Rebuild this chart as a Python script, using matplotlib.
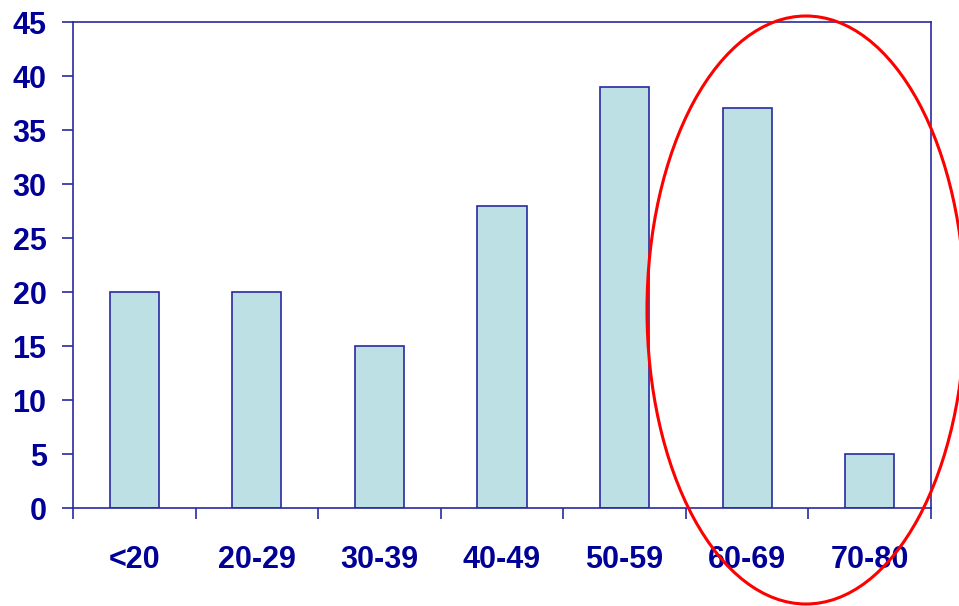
import numpy as np
import matplotlib.pyplot as plt
from matplotlib.patches import Ellipse

categories = ['<20', '20-29', '30-39', '40-49', '50-59', '60-69', '70-80']
values = [20, 20, 15, 28, 39, 37, 5]
yticks = [0, 5, 10, 15, 20, 25, 30, 35, 40, 45]

navy = '#000099'
edge = '#2a2aa0'

plt.rcParams['font.family'] = ['Liberation Sans', 'DejaVu Sans']

fig = plt.figure(figsize=(9.59, 6.06), dpi=100)
ax = fig.add_axes([73 / 959, 1 - 508 / 606, (931 - 73) / 959, (508 - 22) / 606])

x = np.arange(len(categories))
ax.bar(x, values, width=0.4, color='#bce0e3', edgecolor=edge, linewidth=1.2)

ax.set_xlim(-0.5, len(categories) - 0.5)
ax.set_ylim(0, 45)
ax.set_yticks(yticks)
ax.set_yticklabels([str(v) for v in yticks])

# categorias sin marca, marcas en los limites
ax.set_xticks(x)
ax.set_xticklabels(categories)
ax.tick_params(axis='x', length=0, pad=27)
ax.set_xticks(np.arange(len(categories) + 1) - 0.5, minor=True)
ax.tick_params(axis='x', which='minor', length=8, width=1.2, color=edge, direction='out')
ax.tick_params(axis='y', length=8, width=1.2, color=edge, direction='out', pad=11)

for lab in ax.get_xticklabels() + ax.get_yticklabels():
    lab.set_fontsize(22)
    lab.set_fontweight('bold')
    lab.set_color(navy)

for s in ax.spines.values():
    s.set_color(edge)
    s.set_linewidth(1.2)

# elipse roja sobre la figura
ell = Ellipse((806 / 959, 1 - 310 / 606), 318 / 959, 588 / 606,
              transform=fig.transFigure, fill=False, edgecolor='red', linewidth=2.2)
fig.add_artist(ell)

fig.savefig('out.png', dpi=100)
